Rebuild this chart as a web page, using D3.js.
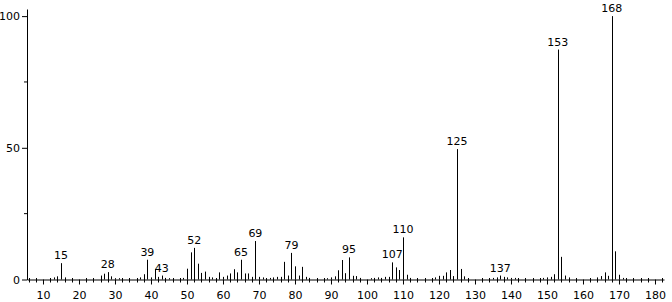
<!DOCTYPE html>
<html>
<head>
<meta charset="utf-8">
<script src="https://cdn.jsdelivr.net/npm/d3@7"></script>
<style>
  html, body { margin: 0; padding: 0; background: #fff; }
  svg { display: block; }
  text { font-family: "DejaVu Sans", sans-serif; }
</style>
</head>
<body>
<div id="chart"></div>
<script>
// mass-to-charge values and relative intensities (%)
const mzValues = [
  12, 13, 14, 15, 16,
  26, 27, 28, 29, 30, 31,
  37, 38, 39, 40, 41, 42, 43, 44, 45,
  49, 50, 51, 52, 53, 54, 55, 56, 57, 59, 60, 61, 62, 63, 64, 65, 66, 67, 68, 69,
  70, 71, 73, 74, 75, 76, 77, 78, 79, 80, 81, 82, 83, 84,
  89, 90, 91, 92, 93, 94, 95, 96, 97, 98,
  101, 102, 103, 104, 105, 106, 107, 108, 109, 110, 111, 112,
  118, 119, 120, 121, 122, 123, 124, 125, 126, 127, 128,
  135, 136, 137, 138, 139, 140, 141,
  149, 150, 151, 152, 153, 154, 155, 156,
  164, 165, 166, 167, 168, 169, 170, 171
];
const intensities = [
  0.5, 0.8, 1.2, 6.2, 0.8,
  1.5, 2.2, 2.8, 1.2, 0.5, 0.5,
  0.8, 2.0, 7.5, 0.8, 4.0, 1.0, 1.5, 0.6, 0.5,
  0.6, 4.1, 10.3, 12.0, 6.0, 2.5, 3.0, 1.0, 0.8, 2.7, 1.0, 1.5, 2.3, 3.9, 2.7, 7.5, 2.3, 2.3, 1.0, 14.6,
  1.0, 0.8, 0.6, 0.8, 1.0, 1.0, 6.7, 1.5, 10.1, 5.0, 1.5, 4.8, 1.0, 0.6,
  0.5, 0.8, 1.2, 3.5, 7.4, 2.4, 8.4, 1.4, 1.3, 0.6,
  0.5, 0.6, 0.8, 0.6, 1.0, 1.0, 6.5, 4.6, 3.6, 16.0, 1.8, 0.6,
  0.5, 0.8, 1.4, 1.4, 2.7, 3.6, 1.3, 49.5, 4.0, 1.2, 0.5,
  0.6, 0.8, 1.5, 1.0, 0.8, 0.6, 0.6,
  0.6, 0.8, 1.0, 2.0, 87.3, 8.6, 1.5, 0.8,
  0.8, 1.3, 2.7, 1.4, 100, 10.7, 1.8, 0.6
];
const labelledPeaks = [15, 28, 39, 43, 52, 65, 69, 79, 95, 107, 110, 125, 137, 153, 168];
const xTickValues = [10, 20, 30, 40, 50, 60, 70, 80, 90, 100, 110, 120, 130, 140, 150, 160, 170, 180];
const yTickValues = [0, 50, 100];
const yMinorTicks = [25, 75];

const width = 672, height = 302;
const peaks = mzValues.map((m, i) => ({ mz: m, value: intensities[i] }));

const svg = d3.select('#chart').append('svg')
  .attr('width', width)
  .attr('height', height);

const x = d3.scaleLinear().domain([5.56, 182.5]).range([27, 664]);
const y = d3.scaleLinear().domain([0, 102.7]).range([279.5, 9]);

// minor x ticks every 2
const xMinor = d3.range(6, 183, 2).filter(v => v % 10 !== 0);
svg.append('g')
  .selectAll('line')
  .data(xMinor)
  .join('line')
  .attr('x1', d => Math.round(x(d)) + 0.5)
  .attr('x2', d => Math.round(x(d)) + 0.5)
  .attr('y1', y(0) - 1.5)
  .attr('y2', y(0) + 3)
  .attr('stroke', '#000')
  .attr('stroke-width', 1);

// peaks
svg.append('g')
  .selectAll('line')
  .data(peaks)
  .join('line')
  .attr('x1', d => Math.round(x(d.mz)) + 0.5)
  .attr('x2', d => Math.round(x(d.mz)) + 0.5)
  .attr('y1', y(0))
  .attr('y2', d => y(d.value))
  .attr('stroke', '#000')
  .attr('stroke-width', 1);

// x axis
const xAxis = svg.append('g')
  .attr('transform', `translate(0,${y(0)})`)
  .call(d3.axisBottom(x).tickValues(xTickValues).tickSize(5).tickSizeOuter(0).tickPadding(7));

// y axis
const yAxis = svg.append('g')
  .attr('transform', `translate(${x.range()[0]},0)`)
  .call(d3.axisLeft(y).tickValues(yTickValues).tickSize(5).tickSizeOuter(0).tickPadding(2));

svg.append('g')
  .selectAll('line')
  .data(yMinorTicks)
  .join('line')
  .attr('x1', x.range()[0] - 3)
  .attr('x2', x.range()[0])
  .attr('y1', d => y(d))
  .attr('y2', d => y(d))
  .attr('stroke', '#000');

[xAxis, yAxis].forEach(g => {
  g.selectAll('text')
    .attr('font-size', 11)
    .attr('font-family', '"DejaVu Sans", sans-serif')
    .attr('fill', '#000');
  g.selectAll('path, line').attr('stroke', '#000');
});

// peak labels
const labelData = peaks.filter(d => labelledPeaks.includes(d.mz));
svg.append('g')
  .selectAll('text')
  .data(labelData)
  .join('text')
  .attr('x', d => x(d.mz))
  .attr('y', d => y(d.value) - 4)
  .attr('text-anchor', 'middle')
  .attr('font-size', 11)
  .attr('fill', '#000')
  .text(d => d.mz);
</script>
</body>
</html>
